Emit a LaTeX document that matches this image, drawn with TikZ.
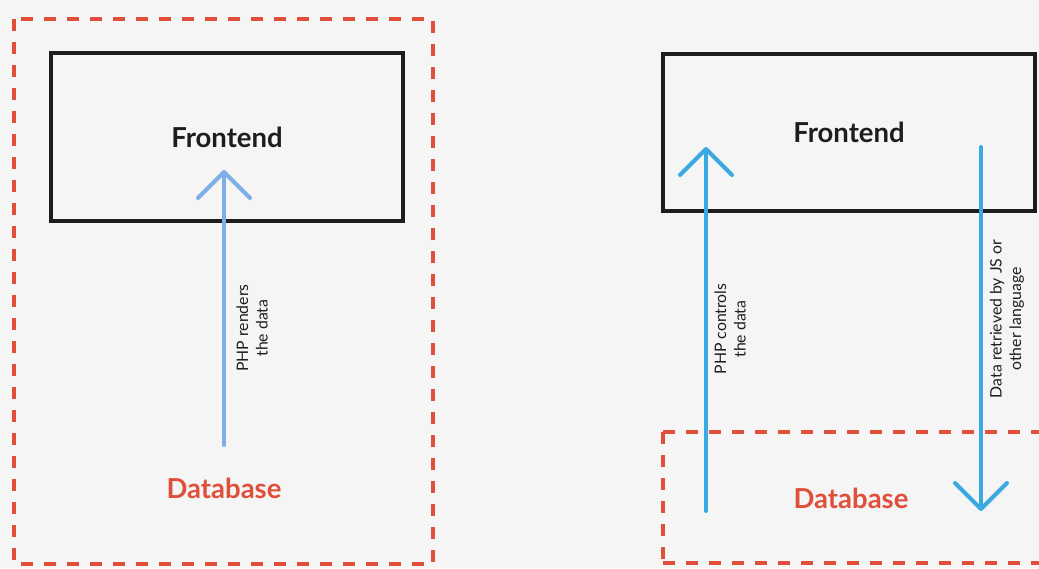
\documentclass[tikz,border=0pt]{standalone}
\usepackage{fontspec}
\setmainfont{Lato}
\usetikzlibrary{arrows.meta,positioning}
\definecolor{bgcolor}{HTML}{F5F5F5}
\definecolor{boxblack}{HTML}{1D1D1D}
\definecolor{dbred}{HTML}{DF4F3A}
\definecolor{paleblue}{HTML}{7EAEE5}
\definecolor{skyblue}{HTML}{3AA9E1}

\begin{document}
\begin{tikzpicture}[x=1pt, y=-1pt]
    \tikzstyle{frontbox} = [rectangle, draw=boxblack, line width=4pt, text=boxblack, font=\fontsize{27.5}{32}\selectfont\bfseries]
    \tikzstyle{dbtext} = [text=dbred, font=\fontsize{27.5}{32}\selectfont\bfseries]
    \tikzstyle{area} = [draw=dbred, line width=4pt, dash pattern=on 12pt off 11pt]
    \tikzstyle{flow} = [line width=4pt, line cap=round, -{Straight Barb[length=26pt, width=52pt, round]}]
    \tikzstyle{note} = [rotate=90, align=center, text=boxblack, font=\fontsize{15.8}{19.5}\selectfont]

    % Hintergrund
    \fill[bgcolor] (0,0) rectangle (1039,568);
    \useasboundingbox (0,0) rectangle (1039,568);

    % Links: alles auf dem Server
    \draw[area] (14,19) rectangle (433,564);
    \node[frontbox, minimum width=352pt, minimum height=168pt] (front left) at (227,137) {Frontend};
    \node[dbtext] (db left) at (224,488) {Database};
    \coordinate (render from) at (224,445);
    \coordinate (render to) at (224,170);
    \draw[flow, paleblue] (render from) -- (render to);
    \node[note] (note render) at (252,328) {PHP renders\\the data};

    % Rechts: getrennte Datenbank
    \draw[area] (663,432) -- (663,563) (663,432) -- (1060,432) (663,563) -- (1060,563);
    \node[frontbox, minimum width=372pt, minimum height=157pt] (front right) at (849,132.5) {Frontend};
    \node[dbtext] (db right) at (851,498) {Database};
    \coordinate (control from) at (706,511);
    \coordinate (control to) at (706,147);
    \coordinate (fetch from) at (981,147);
    \coordinate (fetch to) at (981,511);
    \draw[flow, skyblue] (control from) -- (control to);
    \draw[flow, skyblue] (fetch from) -- (fetch to);
    \node[note] (note control) at (730,329) {PHP controls\\the data};
    \node[note] (note fetch) at (1007,319) {Data retrieved by JS or\\other language};
\end{tikzpicture}
\end{document}
